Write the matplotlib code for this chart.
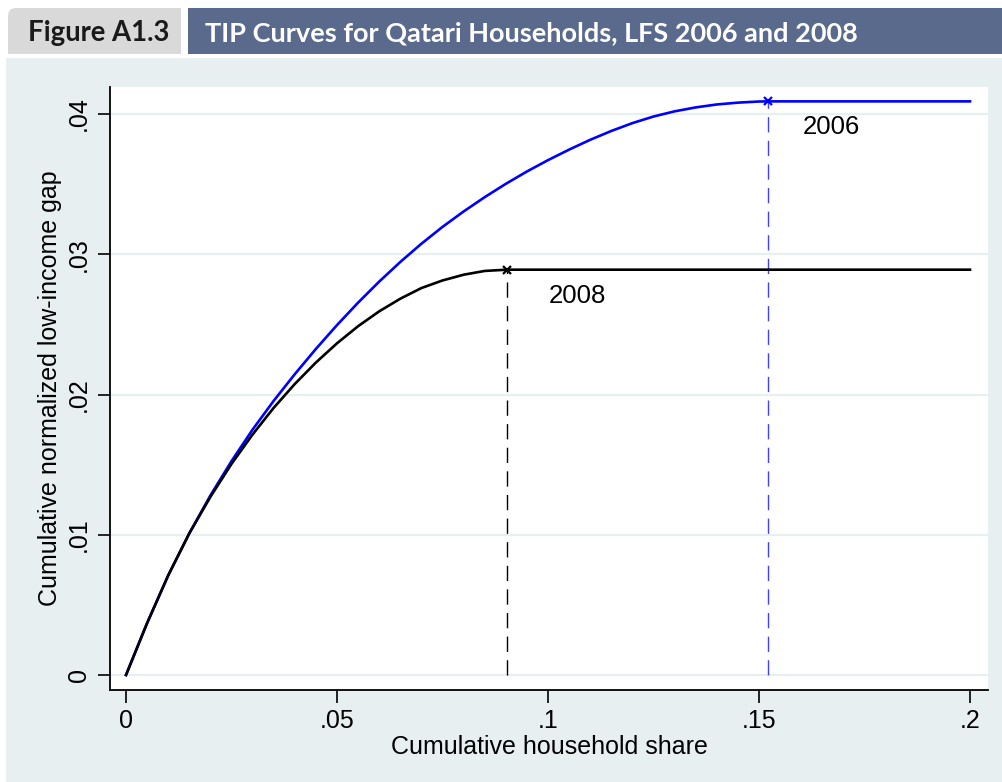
import matplotlib
matplotlib.use("Agg")
import matplotlib.pyplot as plt
from matplotlib.patches import Rectangle, PathPatch
from matplotlib.path import Path

# TIP curve readings: cumulative household share vs cumulative normalized gap
share_2006 = [0, 0.005, 0.010, 0.015, 0.020, 0.025, 0.030, 0.035, 0.040, 0.045,
              0.050, 0.055, 0.060, 0.065, 0.070, 0.075, 0.080, 0.085, 0.090,
              0.095, 0.100, 0.105, 0.110, 0.115, 0.120, 0.125, 0.130, 0.135,
              0.140, 0.145, 0.150, 0.1521, 0.2]
gap_2006 = [0, 0.00370, 0.00710, 0.01010, 0.01280, 0.01525, 0.01750, 0.01955,
            0.02145, 0.02325, 0.02495, 0.02655, 0.02805, 0.02945, 0.03075,
            0.03195, 0.03305, 0.03407, 0.03502, 0.03590, 0.03671, 0.03746,
            0.03816, 0.03879, 0.03935, 0.03982, 0.04019, 0.04047, 0.04068,
            0.04081, 0.04089, 0.04090, 0.04090]

share_2008 = [0, 0.005, 0.010, 0.015, 0.020, 0.025, 0.030, 0.035, 0.040, 0.045,
              0.050, 0.055, 0.060, 0.065, 0.070, 0.075, 0.080, 0.085, 0.0903, 0.2]
gap_2008 = [0, 0.00370, 0.00710, 0.01010, 0.01270, 0.01505, 0.01715, 0.01905,
            0.02075, 0.02228, 0.02365, 0.02487, 0.02593, 0.02683, 0.02759,
            0.02813, 0.02854, 0.02881, 0.02890, 0.02890]

# poverty headcount (end of the rising part) for each year
peak_2006 = (0.1521, 0.0409)
peak_2008 = (0.0903, 0.0289)

x_ticks = [0, 0.05, 0.1, 0.15, 0.2]
x_tick_labels = ["0", ".05", ".1", ".15", ".2"]
y_ticks = [0, 0.01, 0.02, 0.03, 0.04]
y_tick_labels = ["0", ".01", ".02", ".03", ".04"]

fig_title = "TIP Curves for Qatari Households, LFS 2006 and 2008"
fig_tag = "Figure A1.3"

W, H = 1002, 782
plt.rcParams["font.family"] = ["Liberation Sans", "DejaVu Sans"]
plt.rcParams["lines.scale_dashes"] = False

fig = plt.figure(figsize=(W / 100, H / 100), dpi=100)
fig.patch.set_facecolor("white")


def fx(px):
    return px / W


def fy(py):
    return 1 - py / H


def box(x0, y0, x1, y1, color):
    fig.add_artist(Rectangle((fx(x0), fy(y1)), fx(x1) - fx(x0), fy(y0) - fy(y1),
                             transform=fig.transFigure, facecolor=color,
                             edgecolor="none", zorder=0))


# light panel behind the chart
box(6, 58, 1002, 782, "#e8eff1")

# grey tab with rounded top-left corner
r = 8
tx0, ty0, tx1, ty1 = 8, 8, 181, 54
verts = [(tx0, ty1), (tx0, ty0 + r), (tx0, ty0), (tx0 + r, ty0),
         (tx1, ty0), (tx1, ty1), (tx0, ty1)]
codes = [Path.MOVETO, Path.LINETO, Path.CURVE3, Path.CURVE3,
         Path.LINETO, Path.LINETO, Path.CLOSEPOLY]
tab = PathPatch(Path([(fx(a), fy(b)) for a, b in verts], codes),
                transform=fig.transFigure, facecolor="#d9d9d9",
                edgecolor="none", zorder=0)
fig.add_artist(tab)
# dark title bar
box(188, 8, 1002, 54, "#596a8c")

renderer = fig.canvas.get_renderer()


def fitted_text(x_left, width_px, s, color):
    t = fig.text(fx(x_left), fy(33), s, color=color, fontsize=20,
                 fontweight="bold", family=["Lato", "DejaVu Sans"],
                 ha="left", va="center")
    w = t.get_window_extent(renderer).width
    t.set_fontsize(20 * width_px / w)
    return t


fitted_text(28, 142, fig_tag, "#1a1a1a")
fitted_text(205, 655, fig_title, "white")

# main axes
ax_left, ax_right, ax_top, ax_bottom = 110, 988, 87, 690
ax = fig.add_axes([fx(ax_left), fy(ax_bottom), fx(ax_right) - fx(ax_left),
                   fy(ax_top) - fy(ax_bottom)])
ax.set_facecolor("white")

x0_px, x1_px = 126, 970       # pixel positions of x = 0 and x = 0.2
y0_px, y1_px = 675, 114       # pixel positions of y = 0 and y = 0.04
sx = 0.2 / (x1_px - x0_px)
sy = 0.04 / (y0_px - y1_px)
ax.set_xlim((ax_left - x0_px) * sx, (ax_right - x0_px) * sx)
ax.set_ylim((y0_px - ax_bottom) * sy, (y0_px - ax_top) * sy)

for yt in y_ticks:
    ax.axhline(yt, color="#e8eff1", lw=1.6, zorder=0)

blue = "#0000ff"
ax.plot(share_2006, gap_2006, color=blue, lw=1.9, zorder=3,
        solid_joinstyle="round")
ax.plot(share_2008, gap_2008, color="black", lw=1.9, zorder=3,
        solid_joinstyle="round")

ax.plot([peak_2006[0], peak_2006[0]], [0, peak_2006[1]], color="#4040ff",
        lw=1.0, dashes=(11, 6), zorder=2)
ax.plot([peak_2008[0], peak_2008[0]], [0, peak_2008[1]], color="black",
        lw=1.0, dashes=(11, 6), zorder=2)
ax.plot(*peak_2006, marker="x", color=blue, ms=6, mew=1.6, zorder=4)
ax.plot(*peak_2008, marker="x", color="black", ms=6, mew=1.6, zorder=4)

ax.text(0.1604, 0.0391, "2006", fontsize=18.5, ha="left", va="center")
ax.text(0.1002, 0.0270, "2008", fontsize=18.5, ha="left", va="center")

ax.set_xticks(x_ticks)
ax.set_xticklabels(x_tick_labels)
ax.set_yticks(y_ticks)
ax.set_yticklabels(y_tick_labels, rotation=90, va="center")
ax.tick_params(axis="both", length=9, width=1.2, labelsize=18, color="black")
ax.tick_params(axis="x", pad=5)
ax.tick_params(axis="y", pad=5)

for side in ("top", "right"):
    ax.spines[side].set_visible(False)
for side in ("left", "bottom"):
    ax.spines[side].set_linewidth(1.3)

ax.set_xlabel("Cumulative household share", fontsize=18, labelpad=1)
ax.set_ylabel("Cumulative normalized low-income gap", fontsize=18, labelpad=3)

fig.savefig("out.png", dpi=100, facecolor=fig.get_facecolor())
